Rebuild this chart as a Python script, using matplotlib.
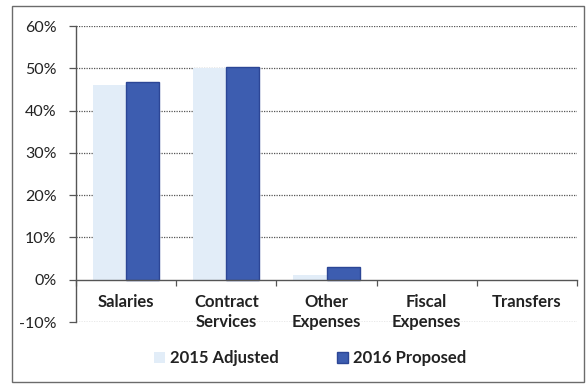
import matplotlib
matplotlib.use("Agg")
import matplotlib.pyplot as plt
import numpy as np
from matplotlib.patches import Rectangle
from matplotlib.ticker import FuncFormatter

categories = ["Salaries", "Contract\nServices", "Other\nExpenses", "Fiscal\nExpenses", "Transfers"]
adjusted_2015 = [46.0, 50.0, 1.2, 0.0, 0.0]
proposed_2016 = [46.8, 50.3, 3.0, 0.0, 0.0]
series_names = ["2015 Adjusted", "2016 Proposed"]
y_ticks = [-10, 0, 10, 20, 30, 40, 50, 60]

light_blue = "#e2edf8"
dark_blue = "#3d5db0"
dark_edge = "#2c4696"

plt.rcParams["font.family"] = ["Lato", "DejaVu Sans"]

fig = plt.figure(figsize=(5.87, 3.86), dpi=100)
fig.patch.set_facecolor("white")

# outer chart frame
fig.patches.append(Rectangle((12 / 587, 4 / 386), 572 / 587, 376 / 386,
                             transform=fig.transFigure, fill=False,
                             edgecolor="#6b6b6b", linewidth=1.0))

ax = fig.add_axes([76 / 587, 1 - 322 / 386, 501 / 587, 296 / 386])
x = np.arange(len(categories))
w = 0.33
ax.bar(x - w / 2, adjusted_2015, width=w, color=light_blue, linewidth=0,
       zorder=3, label=series_names[0])
edge_w = [1.0 if v > 0 else 0 for v in proposed_2016]
ax.bar(x + w / 2, proposed_2016, width=w, color=dark_blue, edgecolor=dark_edge,
       linewidth=edge_w, zorder=3, label=series_names[1])

ax.set_xlim(-0.5, len(categories) - 0.5)
ax.set_ylim(-10, 60)

# gridlines
for t in y_ticks:
    if t == 0:
        continue
    ax.axhline(t, color="#555555", linewidth=0.9, linestyle=(0, (1, 1)), zorder=1)

for s in ["top", "right"]:
    ax.spines[s].set_visible(False)
ax.spines["bottom"].set_position(("data", 0))
ax.spines["bottom"].set_color("#555555")
ax.spines["bottom"].set_linewidth(1.0)
ax.spines["bottom"].set_zorder(4)
ax.spines["left"].set_color("#555555")
ax.spines["left"].set_linewidth(1.0)

ax.set_yticks(y_ticks)
ax.yaxis.set_major_formatter(FuncFormatter(lambda v, p: f"{v:.0f}%"))
ax.tick_params(axis="y", length=5, width=0.9, color="#555555", labelsize=11.5,
               pad=9, labelcolor="#222222")

ax.set_xticks(np.arange(len(categories) + 1) - 0.5)
ax.set_xticklabels([])
ax.tick_params(axis="x", which="major", length=4, width=0.9, color="#555555")
ax.set_xticks(x, minor=True)
ax.set_xticklabels(categories, minor=True, fontweight="bold", fontsize=12,
                   color="#222222", linespacing=1.35)
ax.tick_params(axis="x", which="minor", length=0, pad=10)

handles, labels = ax.get_legend_handles_labels()
leg = fig.legend(handles, labels, loc="center", bbox_to_anchor=(0.528, 1 - 358 / 386),
                 ncol=2, frameon=False, prop={"weight": "bold", "size": 12},
                 handlelength=0.65, handleheight=0.65, handletextpad=0.3,
                 columnspacing=3.5)
for t in leg.get_texts():
    t.set_color("#222222")

fig.savefig("out.png", dpi=100, facecolor="white")
